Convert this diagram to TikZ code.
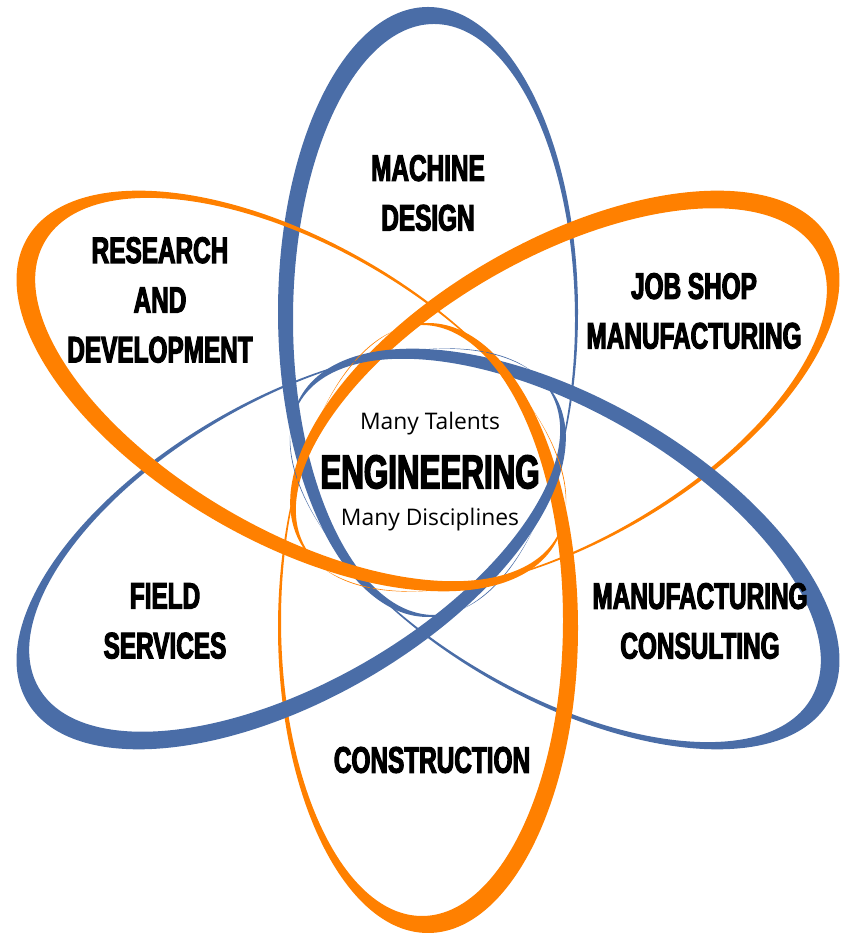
\documentclass[tikz,border=0pt]{standalone}
\usepackage{fontspec}
\newfontfamily\impactfont[FakeStretch=0.66,BoldFeatures={FakeBold=3}]{Liberation Sans}
\newfontfamily\talentfont{Open Sans}
\definecolor{petalblue}{RGB}{74,109,167}
\definecolor{petalorange}{RGB}{255,128,0}

\begin{document}
\begin{tikzpicture}[x=0.02cm, y=0.02cm, node distance=0.96cm,
                    petal/.style={even odd rule},
                    main node/.style={align=center,font=\impactfont\bfseries\fontsize{21}{28.3}\selectfont},
                    sub node/.style={font=\talentfont\fontsize{13}{15}\selectfont}]

  \useasboundingbox (0,0) rectangle (843,936);
  \coordinate (O) at (428,466);

  \fill[petalblue, petal, shift={(O)}, rotate=90] (158,0) ellipse (305 and 150) (150.5,-6) ellipse (295.5 and 141);
  \fill[petalorange, petal, shift={(O)}, rotate=30] (158,0) ellipse (305 and 150) (150.5,-6) ellipse (295.5 and 141);
  \fill[petalblue, petal, shift={(O)}, rotate=-30] (158,0) ellipse (305 and 150) (150.5,-6) ellipse (295.5 and 141);
  \fill[petalorange, petal, shift={(O)}, rotate=-90] (158,0) ellipse (305 and 150) (150.5,-6) ellipse (295.5 and 141);
  \fill[petalblue, petal, shift={(O)}, rotate=210] (158,0) ellipse (305 and 150) (150.5,-6) ellipse (295.5 and 141);
  \fill[petalorange, petal, shift={(O)}, rotate=150] (158,0) ellipse (305 and 150) (150.5,-6) ellipse (295.5 and 141);

  \node[main node] (machine) at (428,743) {MACHINE\\DESIGN};
  \node[main node] (research) at (160,636) {RESEARCH\\AND\\DEVELOPMENT};
  \node[main node] (jobshop) at (694,625) {JOB SHOP\\MANUFACTURING};
  \node[main node] (field) at (165,315) {FIELD\\SERVICES};
  \node[main node] (consulting) at (700,315) {MANUFACTURING\\CONSULTING};
  \node[main node] (construction) at (432,176) {CONSTRUCTION};

  \node[main node, font=\impactfont\bfseries\fontsize{27}{30}\selectfont] (eng) at (430,464) {ENGINEERING};
  \node[sub node] (talents) [above of=eng] {Many Talents};
  \node[sub node] (disciplines) [below of=eng] {Many Disciplines};
\end{tikzpicture}
\end{document}
